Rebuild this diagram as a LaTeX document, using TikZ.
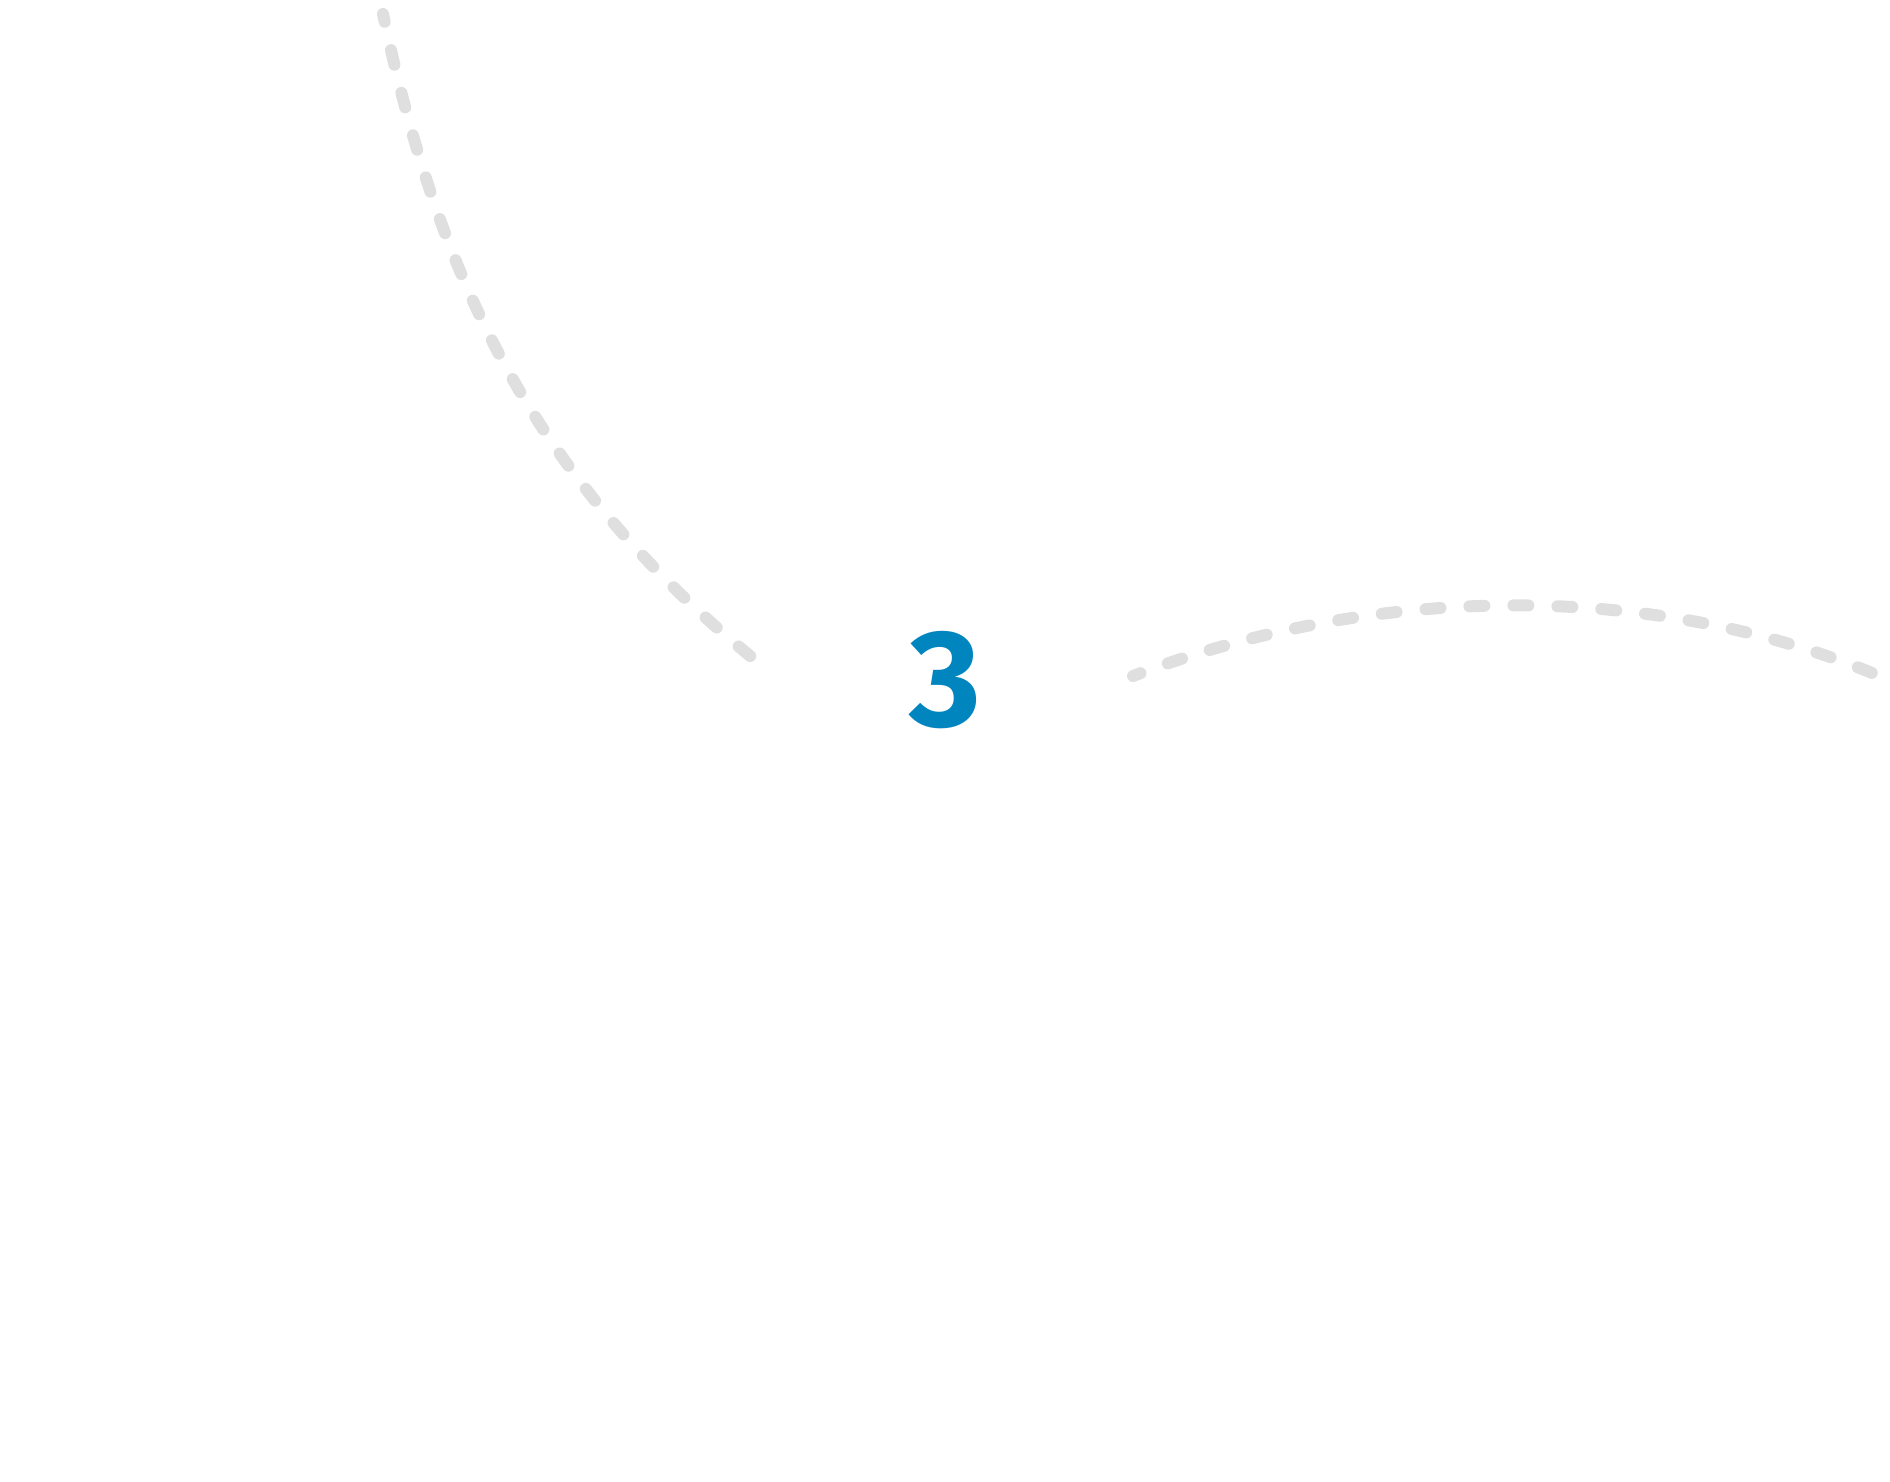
\documentclass[tikz,border=0pt]{standalone}
\usepackage{fontspec}
\setmainfont{Fira Sans}
\definecolor{numblue}{HTML}{0085BF}
\definecolor{dashgray}{HTML}{DFDFDF}
\tikzset{
  dashcurve/.style={draw=dashgray, line width=6pt, line cap=round,
    dash pattern=on 7.5pt off 14.5pt, dash phase=3.5pt},
  numlabel/.style={text=numblue, inner sep=0pt, font=\fontsize{69}{69}\selectfont\bfseries}
}
\begin{document}
\begin{tikzpicture}[x=0.5pt,y=-0.5pt]
  \useasboundingbox (0,0) rectangle (1890,1482);
  \node[numlabel] (num) at (945,680) {3};
  \coordinate (la) at (383,14);
  \coordinate (lb) at (760,664);
  \coordinate (ra) at (1133,676);
  \coordinate (rb) at (1884,678);
  \draw[dashcurve] (la) .. controls (441,288) and (539,486) .. (lb);
  \draw[dashcurve] (ra) .. controls (1380,581.5) and (1659,581.5) .. (rb);
\end{tikzpicture}
\end{document}
